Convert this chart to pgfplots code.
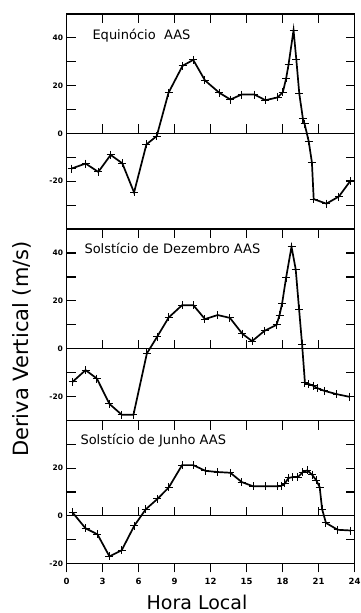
\documentclass[border=0pt]{standalone}
\usepackage{fontspec}
\setmainfont{DejaVu Sans}
\usepackage{pgfplots}
\pgfplotsset{compat=1.18}

\pgfplotsset{
  panel/.style={
    scale only axis, width=288pt,
    xmin=0, xmax=24,
    axis line style={line width=1.2pt},
    tick style={black, line width=1.2pt},
    major tick length=9pt,
    tick align=inside,
    xtick={3,6,...,21}, xtick pos=right, xticklabels={},
    ytick pos=both, yticklabel pos=left,
    tick label style={font=\bfseries\fontsize{7.5}{8}\selectfont},
    /pgf/number format/assume math mode=true,
    anchor=north west,
  },
  series/.style={black, line width=1.7pt, mark=+, mark size=4pt,
    mark options={line width=1pt}},
  zeroline/.style={black, line width=1.2pt, no marks},
}
% upward ticks along the zero line
\newcommand\zeroticks{%
  \pgfplotsinvokeforeach{3,6,9,12,15,18,21}{%
    \draw[line width=1.2pt] (axis cs:##1,0) -- ++(0pt,9pt);}}

\begin{document}
\begin{tikzpicture}
\path[use as bounding box] (0,0) rectangle (360pt,-613pt);

% ---- Equinox ----
\begin{axis}[panel, at={(66.5pt,-14pt)}, height=215pt,
  ymin=-40, ymax=50,
  ytick={-30,-20,...,40}, yticklabels={,-20,,0,,20,,40}]
\addplot[zeroline] coordinates {(0,0) (24,0)};
\zeroticks
\addplot[series] coordinates {
 (0.42,-14.7) (1.59,-12.6) (2.65,-16.1) (3.68,-9.0) (4.65,-12.5) (5.63,-24.7)
 (6.66,-4.6) (7.52,-1.1) (8.50,17.0) (9.67,28.3) (10.56,30.8) (11.54,22.2)
 (12.74,17.0) (13.66,14.2) (14.60,16.3) (15.66,16.3) (16.58,13.9) (17.60,15.1)
 (18.03,17.3) (18.30,23.0) (18.50,28.7) (18.92,43.2) (19.15,31.0) (19.40,16.6)
 (19.70,6.2) (19.84,4.0) (20.18,-3.2) (20.45,-12.1) (20.60,-27.5) (21.66,-29.4)
 (22.70,-26.4) (23.65,-19.9)};
\end{axis}

% ---- December solstice ----
\begin{axis}[panel, at={(66.5pt,-229pt)}, height=191.7pt,
  ymin=-30, ymax=50,
  ytick={-20,-10,...,40}, yticklabels={-20,,0,,20,,40}]
\addplot[zeroline] coordinates {(0,0) (24,0)};
\zeroticks
\addplot[series] coordinates {
 (0.50,-13.8) (1.59,-8.9) (2.53,-12.4) (3.58,-23.0) (4.60,-27.5) (5.58,-27.5)
 (6.70,-1.9) (7.55,5.0) (8.52,13.1) (9.63,18.2) (10.57,18.2) (11.54,12.4)
 (12.60,14.1) (13.62,12.9) (14.65,6.3) (15.47,3.2) (16.50,7.5) (17.50,10.0)
 (17.75,14.0) (17.97,19.0) (18.30,29.7) (18.75,42.6) (19.10,33.2) (19.38,16.6)
 (19.63,2.0) (19.87,-14.2) (20.20,-14.7) (20.55,-15.4) (20.90,-16.4) (21.46,-17.5)
 (22.50,-18.9) (23.55,-20.0)};
\end{axis}

% ---- June solstice ----
\begin{axis}[panel, at={(66.5pt,-420.7pt)}, height=142.6pt,
  ymin=-20, ymax=40,
  ytick={-20,-10,...,30}, yticklabels={-20,,0,,20,}]
\addplot[zeroline] coordinates {(0,0) (24,0)};
\zeroticks
\addplot[series] coordinates {
 (0.50,1.4) (1.59,-5.3) (2.58,-7.8) (3.58,-17.1) (4.60,-14.5) (5.65,-4.2)
 (6.60,2.7) (7.58,7.1) (8.52,11.9) (9.63,21.3) (10.57,21.3) (11.58,18.9)
 (12.60,18.4) (13.65,18.1) (14.60,14.2) (15.55,12.4) (16.62,12.4) (17.60,12.4)
 (17.90,12.6) (18.20,13.6) (18.50,15.9) (18.87,16.3) (19.29,16.3) (19.70,18.4)
 (20.07,19.1) (20.46,17.3) (20.82,14.9) (21.10,12.0) (21.30,2.8) (21.62,-3.0)
 (22.60,-5.9) (23.70,-6.2)};
\end{axis}

% bottom time axis
\begin{axis}[scale only axis, width=288pt, height=142.6pt,
  at={(66.5pt,-420.7pt)}, anchor=north west,
  xmin=0, xmax=24, ymin=-20, ymax=40,
  hide y axis, axis x line*=bottom,
  x axis line style={line width=1.2pt, -},
  tick style={black, line width=1.2pt},
  xtick={0,3,...,24}, tick align=outside, major tick length=9pt,
  xticklabel style={font=\bfseries\fontsize{8.5}{9}\selectfont, yshift=-2pt},
  /pgf/number format/assume math mode=true]
\addplot[draw=none] coordinates {(0,0)};
\end{axis}

\node[font=\fontsize{13}{15}\selectfont, anchor=base west] at (89pt,-39.5pt) {Equinócio\ \ AAS};
\node[font=\fontsize{13}{15}\selectfont, anchor=base west] at (81pt,-253.5pt) {Solstício de Dezembro AAS};
\node[font=\fontsize{13}{15}\selectfont, anchor=base west] at (77pt,-444pt) {Solstício de Junho AAS};

\node[font=\fontsize{21}{24}\selectfont, rotate=90] at (22pt,-349pt) {Deriva Vertical (m/s)};
\node[font=\fontsize{19}{22}\selectfont, anchor=base] at (197pt,-609pt) {Hora Local};
\end{tikzpicture}
\end{document}
